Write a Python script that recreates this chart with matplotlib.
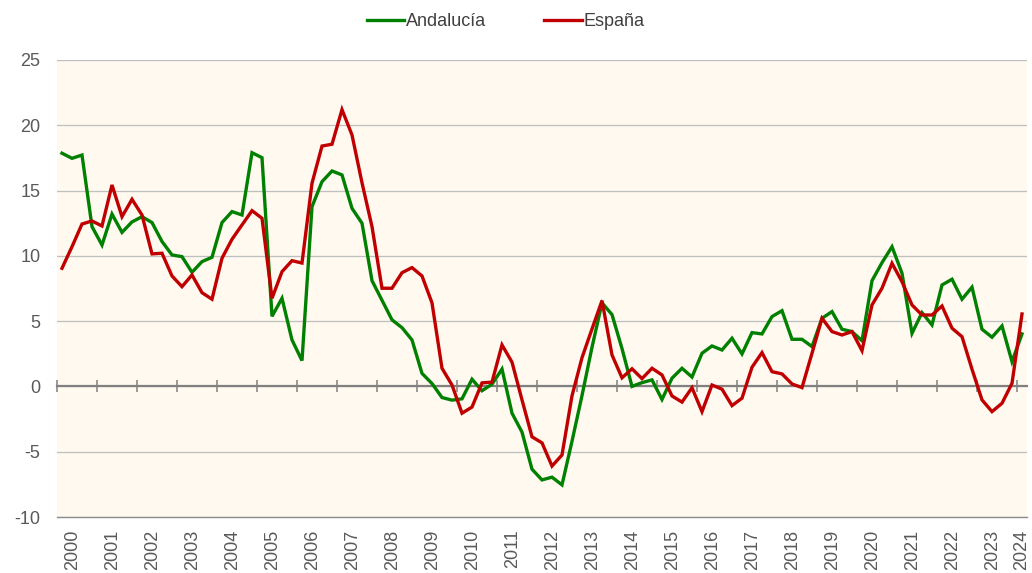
import matplotlib
matplotlib.use("Agg")
import matplotlib.pyplot as plt
import numpy as np

plt.rcParams['font.family'] = ['Liberation Sans', 'DejaVu Sans']

years = [str(y) for y in range(2000, 2025)]

andalucia = [17.86, 17.47, 17.72, 12.24, 10.83, 13.2, 11.8, 12.6, 13.0, 12.55,
             11.1, 10.07, 9.94, 8.74, 9.56, 9.89, 12.55, 13.39, 13.13, 17.9,
             17.52, 5.37, 6.75, 3.56, 1.98, 13.77, 15.68, 16.5, 16.2, 13.64,
             12.5, 8.1, 6.6, 5.1, 4.5, 3.56, 1.0, 0.22, -0.85, -1.05,
             -0.95, 0.55, -0.33, 0.17, 1.33, -2.05, -3.5, -6.34, -7.16, -6.95,
             -7.54, -4.2, -0.7, 3.0, 6.4, 5.5, 2.9, 0.0, 0.29, 0.5,
             -1.0, 0.63, 1.39, 0.72, 2.54, 3.1, 2.79, 3.69, 2.49, 4.12,
             4.02, 5.35, 5.8, 3.61, 3.61, 3.05, 5.22, 5.73, 4.38, 4.2,
             3.5, 8.1, 9.48, 10.7, 8.67, 4.07, 5.65, 4.71, 7.77, 8.21,
             6.68, 7.6, 4.38, 3.77, 4.63, 1.9, 4.02]

espana = [9.05, 10.7, 12.44, 12.67, 12.29, 15.43, 13.0, 14.33, 13.13, 10.15,
          10.2, 8.46, 7.64, 8.54, 7.18, 6.68, 9.82, 11.27, 12.37, 13.46,
          12.88, 6.75, 8.79, 9.63, 9.45, 15.56, 18.41, 18.55, 21.2, 19.26,
          15.6, 12.24, 7.52, 7.52, 8.71, 9.1, 8.46, 6.4, 1.39, 0.11,
          -2.05, -1.58, 0.27, 0.33, 3.18, 1.86, -1.03, -3.86, -4.32, -6.1,
          -5.25, -0.72, 2.2, 4.4, 6.57, 2.41, 0.66, 1.35, 0.6, 1.39,
          0.88, -0.73, -1.2, -0.1, -1.93, 0.11, -0.21, -1.47, -0.9, 1.47,
          2.59, 1.13, 0.96, 0.19, -0.09, 2.54, 5.22, 4.2, 3.94, 4.2,
          2.74, 6.24, 7.52, 9.43, 8.02, 6.24, 5.47, 5.47, 6.16, 4.46,
          3.81, 1.32, -1.03, -1.93, -1.29, 0.24, 5.55]

yticks = [-10, -5, 0, 5, 10, 15, 20, 25]

GREEN = '#008000'
RED = '#C00000'
TXT = '#595959'

fig = plt.figure(figsize=(10.32, 5.73), dpi=100)
ax = fig.add_axes([57/1032, 1 - 517/573, 970/1032, 457/573])
ax.set_facecolor('#FFF9EF')

n = len(andalucia)
x = np.arange(n)
ax.plot(x, andalucia, color=GREEN, lw=2.4, label='Andalucía', zorder=3,
        solid_joinstyle='miter')
ax.plot(x, espana, color=RED, lw=2.4, label='España', zorder=3,
        solid_joinstyle='miter')

ax.set_xlim(-0.5, n - 0.5)
ax.set_ylim(-10, 25)
ax.set_yticks(yticks)
ax.set_yticklabels([str(v) for v in yticks])
ax.tick_params(axis='y', length=0, pad=12, labelsize=13, labelcolor=TXT)
ax.yaxis.grid(True, color='#BFBFBF', lw=0.9)
ax.set_axisbelow(True)

for s in ['left', 'right', 'top']:
    ax.spines[s].set_visible(False)
ax.spines['bottom'].set_position(('data', 0))
ax.spines['bottom'].set_color('#808080')
ax.spines['bottom'].set_linewidth(1.6)

tick_pos = np.arange(-0.5, n - 0.5, 4)
ax.set_xticks(tick_pos)
ax.tick_params(axis='x', direction='inout', length=9, width=1.1,
               color='#808080', labelbottom=False)

sec = ax.secondary_xaxis('bottom')
label_pos = [min(4 * k + 1.1, n - 1) for k in range(len(years))]
sec.set_xticks(label_pos)
sec.set_xticklabels(years, rotation=90)
sec.tick_params(axis='x', length=0, pad=9, labelsize=13, labelcolor=TXT)
sec.spines['bottom'].set_color('#8C8C8C')
sec.spines['bottom'].set_linewidth(1.0)

fig.legend(loc='upper center', bbox_to_anchor=(0.49, 1.005), ncol=2,
           frameon=False, fontsize=13, handlelength=2.1, handletextpad=0.1,
           columnspacing=3.2, labelcolor='#404040')

fig.savefig('out.png', dpi=100)
